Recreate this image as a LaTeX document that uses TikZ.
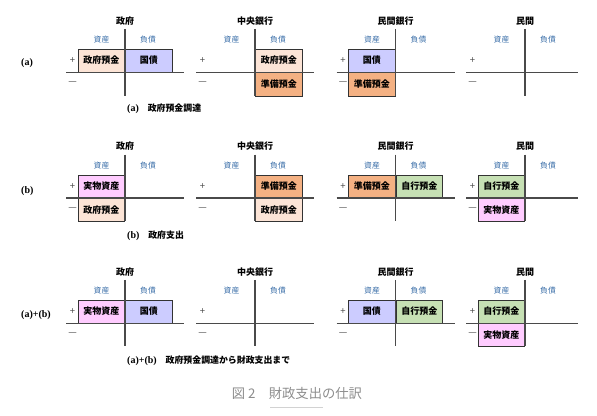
\documentclass[tikz,border=0pt]{standalone}
\usepackage{fontspec}
\setmainfont{Noto Sans CJK JP}
\newfontfamily\latfont{Liberation Serif}
\definecolor{tline}{HTML}{4A4A4A}
\definecolor{bline}{HTML}{333333}
\definecolor{sidecol}{HTML}{3A6EA8}
\definecolor{govdep}{HTML}{FCE4D6}
\definecolor{bondcol}{HTML}{CCCCFF}
\definecolor{resdep}{HTML}{F4B183}
\definecolor{realcol}{HTML}{FFCCFF}
\definecolor{owndep}{HTML}{C6E0B4}
\definecolor{capgray}{HTML}{8C8C8C}
\newcommand{\rowtag}[1]{{\fontsize{10}{11}\selectfont\latfont #1}}
\begin{document}
\begin{tikzpicture}[x=1pt, y=-1pt,
  tacct/.style={draw=tline, line width=1.1pt},
  entry/.style={draw=bline, line width=0.8pt, minimum width=46.7pt, minimum height=22.7pt,
    inner sep=0pt, font=\fontsize{9}{10}\selectfont\bfseries},
  owner/.style={font=\fontsize{9}{10}\selectfont\bfseries},
  side/.style={text=sidecol, font=\fontsize{7.8}{9}\selectfont},
  sign/.style={text=tline, font=\fontsize{9.5}{10}\selectfont},
  rowlab/.style={anchor=west, inner sep=0pt, font=\fontsize{10}{11}\selectfont\latfont\bfseries},
  caption/.style={anchor=west, inner sep=0pt, font=\fontsize{8.9}{10}\selectfont\bfseries}
]
\useasboundingbox (0,0) rectangle (597,415);

%row (a)
\node[rowlab] (rla) at (21, 63) {(a)};
\node[entry, fill=govdep, anchor=south east] (a1l) at (125, 72.3) {政府預金};
\node[entry, fill=bondcol, anchor=south west] (a1r) at (125, 72.3) {国債};
\node[entry, fill=govdep, anchor=south west] (a2r) at (255, 72.3) {政府預金};
\node[entry, fill=resdep, anchor=north west, minimum height=23.5pt] (a2rb) at (255, 72.3) {準備預金};
\node[entry, fill=bondcol, anchor=south east] (a3l) at (395.5, 72.3) {国債};
\node[entry, fill=resdep, anchor=north east, minimum height=23.5pt] (a3lb) at (395.5, 72.3) {準備預金};

\draw[tacct] (66, 72.3) -- (184, 72.3) (125, 28.8) -- (125, 95.8);
\draw[tacct] (196, 72.3) -- (314, 72.3) (255, 28.8) -- (255, 95.8);
\draw[tacct] (336.5, 72.3) -- (454.5, 72.3) (395.5, 28.8) -- (395.5, 95.8);
\draw[tacct] (466, 72.3) -- (578, 72.3) (525, 28.8) -- (525, 95.8);

\node[owner] (a1t) at (125, 20.8) {政府};
\node[owner] (a2t) at (255, 20.8) {中央銀行};
\node[owner] (a3t) at (395.5, 20.8) {民間銀行};
\node[owner] (a4t) at (525, 20.8) {民間};
\node[side] (a1s) at (101.5, 39.8) {資産};
\node[side] (a1d) at (148, 39.8) {負債};
\node[side] (a2s) at (231.5, 39.8) {資産};
\node[side] (a2d) at (278, 39.8) {負債};
\node[side] (a3s) at (372, 39.8) {資産};
\node[side] (a3d) at (418.5, 39.8) {負債};
\node[side] (a4s) at (501.5, 39.8) {資産};
\node[side] (a4d) at (548, 39.8) {負債};
\node[sign] (a1p) at (72.5, 60.8) {+};
\node[sign] (a1m) at (72.5, 83.3) {—};
\node[sign] (a2p) at (202.5, 60.8) {+};
\node[sign] (a2m) at (202.5, 83.3) {—};
\node[sign] (a3p) at (343, 60.8) {+};
\node[sign] (a3m) at (343, 83.3) {—};
\node[sign] (a4p) at (472.5, 60.8) {+};
\node[sign] (a4m) at (472.5, 83.3) {—};
\node[caption] (capa) at (127, 109) {\rowtag{(a)}　政府預金調達};

%row (b)
\node[rowlab] (rlb) at (21, 191) {(b)};
\node[entry, fill=realcol, anchor=south east] (b1l) at (125, 198) {実物資産};
\node[entry, fill=govdep, anchor=north east] (b1lb) at (125, 198) {政府預金};
\node[entry, fill=resdep, anchor=south west] (b2r) at (255, 198) {準備預金};
\node[entry, fill=govdep, anchor=north west] (b2rb) at (255, 198) {政府預金};
\node[entry, fill=resdep, anchor=south east] (b3l) at (395.5, 198) {準備預金};
\node[entry, fill=owndep, anchor=south west] (b3r) at (395.5, 198) {自行預金};
\node[entry, fill=owndep, anchor=south east] (b4l) at (525, 198) {自行預金};
\node[entry, fill=realcol, anchor=north east] (b4lb) at (525, 198) {実物資産};

\draw[tacct] (66, 198) -- (184, 198) (125, 154.5) -- (125, 220.7);
\draw[tacct] (196, 198) -- (314, 198) (255, 154.5) -- (255, 220.7);
\draw[tacct] (336.5, 198) -- (454.5, 198) (395.5, 154.5) -- (395.5, 220.7);
\draw[tacct] (466, 198) -- (578, 198) (525, 154.5) -- (525, 220.7);

\node[owner] (b1t) at (125, 146.5) {政府};
\node[owner] (b2t) at (255, 146.5) {中央銀行};
\node[owner] (b3t) at (395.5, 146.5) {民間銀行};
\node[owner] (b4t) at (525, 146.5) {民間};
\node[side] (b1s) at (101.5, 165.5) {資産};
\node[side] (b1d) at (148, 165.5) {負債};
\node[side] (b2s) at (231.5, 165.5) {資産};
\node[side] (b2d) at (278, 165.5) {負債};
\node[side] (b3s) at (372, 165.5) {資産};
\node[side] (b3d) at (418.5, 165.5) {負債};
\node[side] (b4s) at (501.5, 165.5) {資産};
\node[side] (b4d) at (548, 165.5) {負債};
\node[sign] (b1p) at (72.5, 186.5) {+};
\node[sign] (b1m) at (72.5, 209) {—};
\node[sign] (b2p) at (202.5, 186.5) {+};
\node[sign] (b2m) at (202.5, 209) {—};
\node[sign] (b3p) at (343, 186.5) {+};
\node[sign] (b3m) at (343, 209) {—};
\node[sign] (b4p) at (472.5, 186.5) {+};
\node[sign] (b4m) at (472.5, 209) {—};
\node[caption] (capb) at (127, 235.3) {\rowtag{(b)}　政府支出};

%row (a)+(b)
\node[rowlab] (rlab) at (21, 315) {(a)+(b)};
\node[entry, fill=realcol, anchor=south east] (c1l) at (125, 323.3) {実物資産};
\node[entry, fill=bondcol, anchor=south west] (c1r) at (125, 323.3) {国債};
\node[entry, fill=bondcol, anchor=south east] (c3l) at (395.5, 323.3) {国債};
\node[entry, fill=owndep, anchor=south west] (c3r) at (395.5, 323.3) {自行預金};
\node[entry, fill=owndep, anchor=south east] (c4l) at (525, 323.3) {自行預金};
\node[entry, fill=realcol, anchor=north east] (c4lb) at (525, 323.3) {実物資産};

\draw[tacct] (66, 323.3) -- (184, 323.3) (125, 279.8) -- (125, 346);
\draw[tacct] (196, 323.3) -- (314, 323.3) (255, 279.8) -- (255, 346);
\draw[tacct] (336.5, 323.3) -- (454.5, 323.3) (395.5, 279.8) -- (395.5, 346);
\draw[tacct] (466, 323.3) -- (578, 323.3) (525, 279.8) -- (525, 346);

\node[owner] (c1t) at (125, 271.8) {政府};
\node[owner] (c2t) at (255, 271.8) {中央銀行};
\node[owner] (c3t) at (395.5, 271.8) {民間銀行};
\node[owner] (c4t) at (525, 271.8) {民間};
\node[side] (c1s) at (101.5, 290.8) {資産};
\node[side] (c1d) at (148, 290.8) {負債};
\node[side] (c2s) at (231.5, 290.8) {資産};
\node[side] (c2d) at (278, 290.8) {負債};
\node[side] (c3s) at (372, 290.8) {資産};
\node[side] (c3d) at (418.5, 290.8) {負債};
\node[side] (c4s) at (501.5, 290.8) {資産};
\node[side] (c4d) at (548, 290.8) {負債};
\node[sign] (c1p) at (72.5, 311.8) {+};
\node[sign] (c1m) at (72.5, 334.3) {—};
\node[sign] (c2p) at (202.5, 311.8) {+};
\node[sign] (c2m) at (202.5, 334.3) {—};
\node[sign] (c3p) at (343, 311.8) {+};
\node[sign] (c3m) at (343, 334.3) {—};
\node[sign] (c4p) at (472.5, 311.8) {+};
\node[sign] (c4m) at (472.5, 334.3) {—};
\node[caption] (capab) at (127, 360.3) {\rowtag{(a)+(b)}　政府預金調達から財政支出まで};

%figure caption
\node[anchor=west, inner sep=0pt, text=capgray, font=\fontsize{13.3}{15}\selectfont] (fig) at (231.7, 393.3) {図 2　財政支出の仕訳};
\draw[draw=gray!35, line width=0.6pt] (270, 407.5) -- (322.5, 407.5);
\end{tikzpicture}
\end{document}
